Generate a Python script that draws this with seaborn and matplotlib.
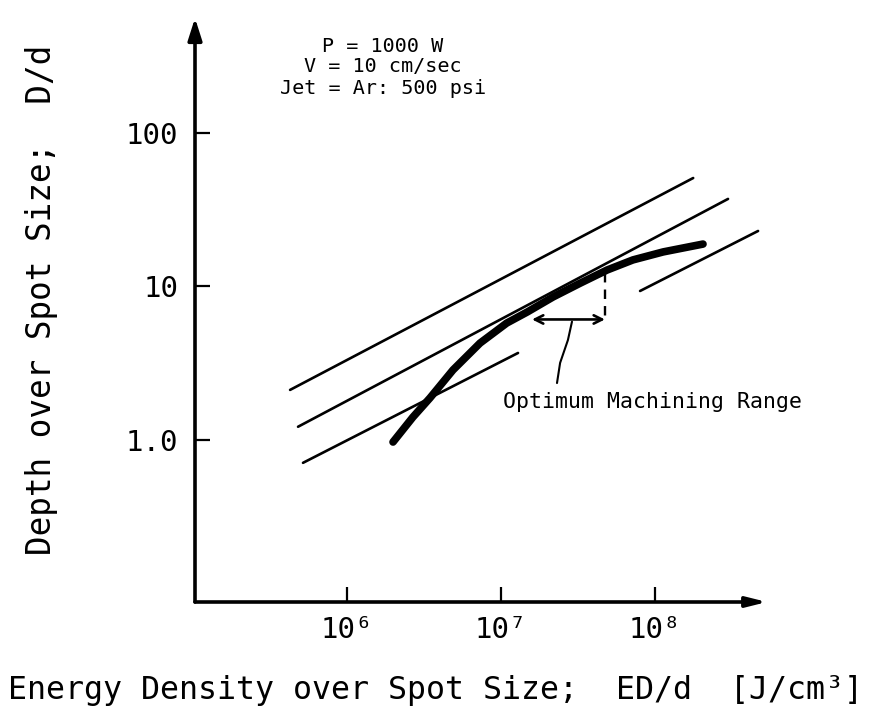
import numpy as np
import pandas as pd
import matplotlib
matplotlib.use("Agg")
import matplotlib.pyplot as plt
import seaborn as sns

# ---------------- data ----------------
x_ticks = [1e6, 1e7, 1e8]
x_tick_labels = ["10\u2076", "10\u2077", "10\u2078"]
y_ticks = [1, 10, 100]
y_tick_labels = ["1.0", "10", "100"]

upper_x = [4.27e5, 1.77e8]
upper_y = [2.12, 50.9]
middle_x = [4.81e5, 2.98e8]
middle_y = [1.22, 37.2]
lower_x = [5.18e5, 1.29e7]
lower_y = [0.71, 3.69]
right_x = [8.0e7, 4.67e8]
right_y = [9.35, 23.0]

curve_x = [1.99e6, 2.68e6, 3.46e6, 4.88e6, 7.31e6, 1.09e7, 1.48e7,
           2.18e7, 3.26e7, 4.88e7, 7.19e7, 1.13e8, 2.05e8]
curve_y = [0.97, 1.41, 1.88, 2.86, 4.28, 5.78, 6.82,
           8.55, 10.5, 12.8, 14.9, 16.8, 18.9]

optimum_range_x = [1.59e7, 4.73e7]
optimum_level_y = 6.1
optimum_top_y = 12.2

leader_x = [2.89e7, 2.72e7, 2.42e7, 2.31e7]
leader_y = [5.9, 4.48, 3.18, 2.35]

conditions = ["P = 1000 W", "V = 10 cm/sec", "Jet = Ar: 500 psi"]
annotation_text = "Optimum Machining Range"
xlabel = "Energy Density over Spot Size;  ED/d  [J/cm\u00b3]"
ylabel = "Depth over Spot Size;  D/d"

# ---------------- figure ----------------
sns.set_theme(style="white")
plt.rcParams["font.family"] = ["DejaVu Sans Mono", "DejaVu Sans"]

W, H = 872, 721
fig = plt.figure(figsize=(W / 100, H / 100), dpi=100)
L, R, B, T = 195, 767, 602, 18
ax = fig.add_axes([L / W, (H - B) / H, (R - L) / W, (B - T) / H])
ax.set_xscale("log")
ax.set_yscale("log")
# pixel mapping: 1e6 at x=347, 154 px/decade; 100 at y=133, 153.5 px/decade
ax.set_xlim(10 ** (6 + (L - 347) / 154), 10 ** (6 + (R - 347) / 154))
ax.set_ylim(10 ** (2 - (B - 133) / 153.5), 10 ** (2 + (133 - T) / 153.5))

thin = dict(color="black", linewidth=1.9, ax=ax, sort=False, estimator=None)
for xs, ys in [(upper_x, upper_y), (middle_x, middle_y),
               (lower_x, lower_y), (right_x, right_y)]:
    sns.lineplot(x=xs, y=ys, **thin)

sns.lineplot(x=curve_x, y=curve_y, color="black", linewidth=5.5, ax=ax,
             sort=False, estimator=None, solid_capstyle="round")

# dashed drop line and range arrow
sns.lineplot(x=[optimum_range_x[1], optimum_range_x[1]],
             y=[optimum_top_y, optimum_level_y], color="black",
             linewidth=1.7, linestyle=(0, (4, 3)), ax=ax, sort=False,
             estimator=None)
ax.annotate("", xy=(optimum_range_x[0], optimum_level_y),
            xytext=(optimum_range_x[1], optimum_level_y),
            arrowprops=dict(arrowstyle="<->,head_length=0.5,head_width=0.25",
                            color="black", lw=1.9, shrinkA=0, shrinkB=0))
sns.lineplot(x=leader_x, y=leader_y, color="black", linewidth=1.5, ax=ax,
             sort=False, estimator=None)
ax.text(1.03e7, 1.77, annotation_text, fontsize=15.5, ha="left",
        va="center", color="black")

# conditions text block
for i, line in enumerate(conditions):
    fig.text(383 / W, 1 - (46 + 21 * i) / H, line, fontsize=14.5,
             ha="center", va="center", color="black")

# axes with arrows
for s in ax.spines.values():
    s.set_visible(False)
ax.annotate("", xy=(0, 1), xytext=(0, 0), xycoords="axes fraction",
            arrowprops=dict(arrowstyle="-|>,head_length=1.1,head_width=0.35",
                            color="black", lw=2.6, shrinkA=0, shrinkB=0))
ax.annotate("", xy=(1, 0), xytext=(0, 0), xycoords="axes fraction",
            arrowprops=dict(arrowstyle="-|>,head_length=1.0,head_width=0.25",
                            color="black", lw=2.6, shrinkA=0, shrinkB=0))

ax.set_xticks(x_ticks)
ax.set_xticklabels(x_tick_labels)
ax.set_yticks(y_ticks)
ax.set_yticklabels(y_tick_labels)
ax.minorticks_off()
ax.tick_params(axis="both", direction="in", length=11, width=1.6,
               color="black", labelcolor="black", labelsize=21,
               left=True, bottom=True)
ax.tick_params(axis="y", pad=12)
ax.tick_params(axis="x", pad=10)
ax.grid(False)
ax.set_facecolor("white")

fig.text(435 / W, 1 - 690 / H, xlabel, fontsize=22.8, ha="center",
         va="center", color="black")
fig.text(42 / W, 1 - 300 / H, ylabel, fontsize=23.5, ha="center",
         va="center", rotation=90, color="black")

fig.savefig("out.png", dpi=100, facecolor="white")
